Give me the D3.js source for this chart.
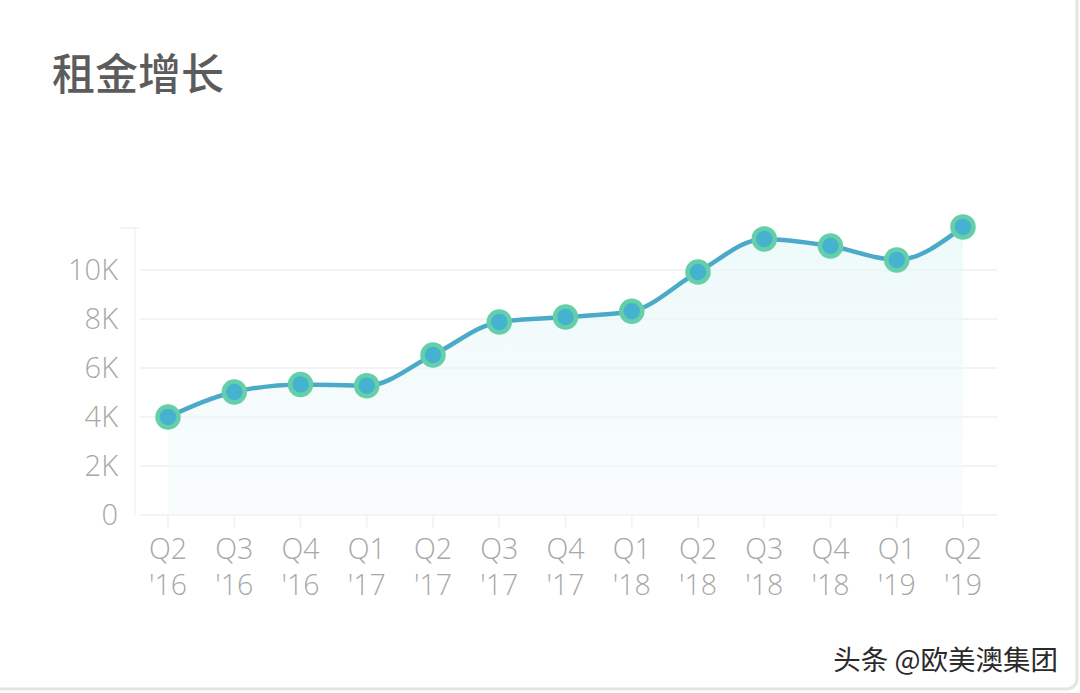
<!DOCTYPE html>
<html><head><meta charset="utf-8">
<script src="https://cdn.jsdelivr.net/npm/d3@7/dist/d3.min.js"></script>
<style>
html,body{margin:0;padding:0;background:#fff;}
svg{display:block;}
</style></head>
<body>
<svg id="c" width="1080" height="693"></svg>
<script>
const quarters = ["Q2","Q3","Q4","Q1","Q2","Q3","Q4","Q1","Q2","Q3","Q4","Q1","Q2"];
const years = ["'16","'16","'16","'17","'17","'17","'17","'18","'18","'18","'18","'19","'19"];
const rent = [4000,5020,5330,5280,6530,7880,8080,8320,9920,11270,10980,10410,11760];
const yTicks = [0,2000,4000,6000,8000,10000];
const yTickLabels = ["0","2K","4K","6K","8K","10K"];
const title = "租金增长";
const watermark = "头条 @欧美澳集团";

const svg = d3.select("#c");
const cats = quarters.map((q,i)=>i);
const x = d3.scalePoint().domain(cats).range([168,963]);
const y = d3.scaleLinear().domain([0,12000]).range([515,221]);

// frame
svg.append("rect").attr("x",-10).attr("y",-10).attr("width",1087).attr("height",699)
  .attr("rx",10).attr("fill","#fff").attr("stroke","#e4e4e4").attr("stroke-width",3);

// title
svg.append("text").attr("x",52).attr("y",90).text(title)
  .attr("font-family","'Noto Sans CJK SC'").attr("font-size",43).attr("font-weight",500)
  .attr("fill","#5c5c5c");

// gradient
const defs = svg.append("defs");
const g = defs.append("linearGradient").attr("id","ag").attr("x1",0).attr("y1",0).attr("x2",0).attr("y2",1);
g.append("stop").attr("offset","0%").attr("stop-color","#e6f7f8").attr("stop-opacity",0.7);
g.append("stop").attr("offset","100%").attr("stop-color","#f3fafb").attr("stop-opacity",0.5);

// plot frame lines
svg.append("line").attr("x1",135).attr("x2",135).attr("y1",228).attr("y2",515)
  .attr("stroke","#f6f6f6").attr("stroke-width",2);
svg.append("line").attr("x1",120).attr("x2",140).attr("y1",228).attr("y2",228)
  .attr("stroke","#f4f4f4").attr("stroke-width",2);

// gridlines
svg.append("g").selectAll("line").data(yTicks).join("line")
  .attr("x1",140).attr("x2",997).attr("y1",d=>y(d)).attr("y2",d=>y(d))
  .attr("stroke","#f3f3f3").attr("stroke-width",2);

// x ticks
svg.append("g").selectAll("line").data(cats).join("line")
  .attr("x1",d=>x(d)).attr("x2",d=>x(d)).attr("y1",515).attr("y2",528)
  .attr("stroke","#f4f4f4").attr("stroke-width",2);

// y labels
svg.append("g").selectAll("text").data(yTicks).join("text")
  .attr("x",118).attr("y",d=>y(d)+10).attr("text-anchor","end")
  .attr("font-family","'Open Sans'").attr("font-weight",300).attr("font-size",29).attr("fill","#a8a8a8")
  .text((d,i)=>yTickLabels[i]);

// x labels (two lines each)
const xg = svg.append("g").attr("font-family","'Open Sans'").attr("font-weight",300)
  .attr("font-size",28.5).attr("fill","#a8a8a8").attr("text-anchor","middle");
xg.selectAll("text.q").data(cats).join("text").attr("class","q")
  .attr("x",d=>x(d)).attr("y",559).text(d=>quarters[d]);
xg.selectAll("text.yr").data(cats).join("text").attr("class","yr")
  .attr("x",d=>x(d)).attr("y",595).text(d=>years[d]);

// area
const area = d3.area().x((d,i)=>x(i)).y0(515).y1(d=>y(d)).curve(d3.curveMonotoneX);
svg.append("path").datum(rent).attr("d",area).attr("fill","url(#ag)");

// line
const line = d3.line().x((d,i)=>x(i)).y(d=>y(d)).curve(d3.curveMonotoneX);
svg.append("path").datum(rent).attr("d",line).attr("fill","none")
  .attr("stroke","#4aaac8").attr("stroke-width",4.5);

// dots
svg.append("g").selectAll("circle").data(rent).join("circle")
  .attr("cx",(d,i)=>x(i)).attr("cy",d=>y(d)).attr("r",10.5)
  .attr("fill","#45b2cf").attr("stroke","#64cfa8").attr("stroke-width",4.5);

// watermark
svg.append("text").attr("x",1058).attr("y",670).attr("text-anchor","end")
  .attr("font-family","'Noto Sans CJK SC'").attr("font-size",27.5).attr("fill","#2a2a2a")
  .text(watermark);
</script>
</body></html>
